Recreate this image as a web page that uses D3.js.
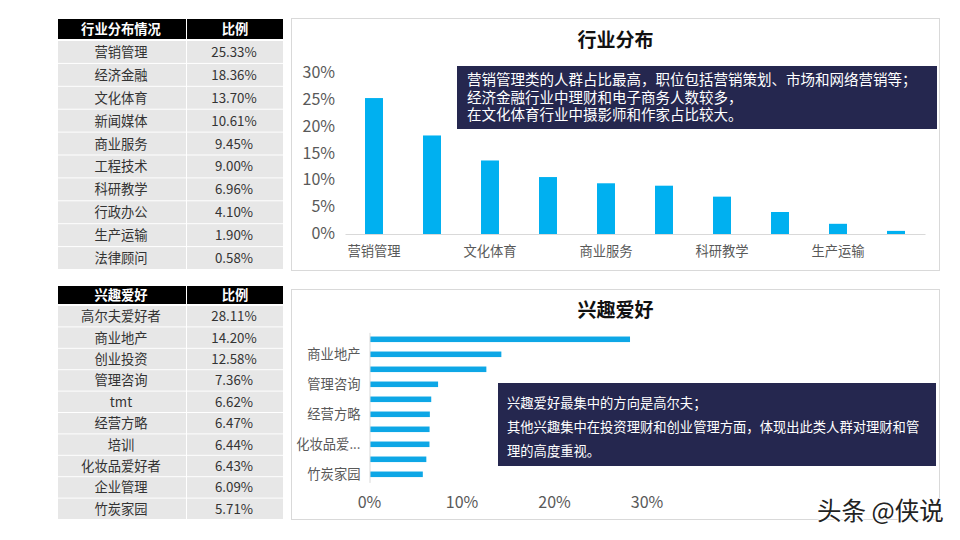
<!DOCTYPE html>
<html>
<head>
<meta charset="utf-8">
<script src="https://cdn.jsdelivr.net/npm/d3@7"></script>
<style>
html, body { margin: 0; padding: 0; background: #fff; }
svg { display: block; }
text { font-family: "Noto Sans CJK SC", "Noto Sans", sans-serif; }
.axis .domain { stroke: #d9d9d9; }
.axis text { fill: #595959; }
</style>
</head>
<body>
<svg id="chart" width="960" height="540"></svg>
<script>
var industries = ['营销管理', '经济金融', '文化体育', '新闻媒体', '商业服务', '工程技术', '科研教学', '行政办公', '生产运输', '法律顾问'];
var industryShares = [25.33, 18.36, 13.70, 10.61, 9.45, 9.00, 6.96, 4.10, 1.90, 0.58];
var hobbies = ['高尔夫爱好者', '商业地产', '创业投资', '管理咨询', 'tmt', '经营方略', '培训', '化妆品爱好者', '企业管理', '竹炭家园'];
var hobbyShares = [28.11, 14.20, 12.58, 7.36, 6.62, 6.47, 6.44, 6.43, 6.09, 5.71];
var industryTicks = [0, 5, 10, 15, 20, 25, 30];
var hobbyTicks = [0, 10, 20, 30];
var industryNote = ['营销管理类的人群占比最高，职位包括营销策划、市场和网络营销等；', '经济金融行业中理财和电子商务人数较多，', '在文化体育行业中摄影师和作家占比较大。'];
var hobbyNote = ['兴趣爱好最集中的方向是高尔夫；', '其他兴趣集中在投资理财和创业管理方面，体现出此类人群对理财和管', '理的高度重视。'];

var svg = d3.select('#chart');
var pct = d3.format('.2f');

// table on the left, header row then grey rows
function drawTable(opts) {
    var g = svg.append('g');
    var rowY = d3.scaleBand().domain(d3.range(opts.names.length)).range([opts.top, opts.bottom]);

    g.append('rect').attr('x', 58).attr('y', opts.headTop).attr('width', 128).attr('height', opts.headH).attr('fill', '#000');
    g.append('rect').attr('x', 187).attr('y', opts.headTop).attr('width', 96).attr('height', opts.headH).attr('fill', '#000');
    g.selectAll('.head').data([[121, opts.title], [235, '比例']]).enter().append('text')
        .attr('x', function(d) { return d[0]; })
        .attr('y', opts.headTop + opts.headH / 2)
        .attr('dy', '0.36em')
        .attr('text-anchor', 'middle')
        .attr('font-size', 13.3)
        .attr('font-weight', 700)
        .attr('fill', '#fff')
        .text(function(d) { return d[1]; });

    var row = g.selectAll('.row').data(opts.names).enter().append('g')
        .attr('transform', function(d, i) { return 'translate(0,' + rowY(i) + ')'; });
    row.append('rect').attr('x', 58).attr('width', 128).attr('height', rowY.bandwidth() - 1).attr('fill', '#e7e7e7');
    row.append('rect').attr('x', 187).attr('width', 96).attr('height', rowY.bandwidth() - 1).attr('fill', '#e7e7e7');
    row.append('text')
        .attr('x', 121).attr('y', rowY.bandwidth() / 2).attr('dy', '0.34em')
        .attr('text-anchor', 'middle').attr('font-size', 13.3).attr('fill', '#333')
        .text(function(d) { return d; });
    row.append('text')
        .attr('x', 234).attr('y', rowY.bandwidth() / 2).attr('dy', '0.34em')
        .attr('text-anchor', 'middle').attr('font-size', 13.3).attr('fill', '#333')
        .text(function(d, i) { return pct(opts.values[i]) + '%'; });
}

function drawPanel(top, bottom, title, titleY) {
    svg.append('rect').attr('x', 291.5).attr('y', top + 0.5).attr('width', 648).attr('height', bottom - top)
        .attr('fill', '#fff').attr('stroke', '#d9d9d9');
    svg.append('text').attr('x', 615.5).attr('y', titleY).attr('dy', '0.36em')
        .attr('text-anchor', 'middle').attr('font-size', 19).attr('font-weight', 700).attr('fill', '#111')
        .text(title);
}

function drawNote(x, y, w, h, lines, size, firstY, lineH) {
    svg.append('rect').attr('x', x).attr('y', y).attr('width', w).attr('height', h).attr('fill', '#25274f');
    var note = svg.append('text').attr('font-size', size).attr('fill', '#fff');
    note.selectAll('tspan').data(lines).enter().append('tspan')
        .attr('x', x + (size > 14 ? 10 : 9))
        .attr('y', function(d, i) { return firstY + i * lineH + size * 0.36; })
        .text(function(d) { return d; });
}

drawTable({ title: '行业分布情况', names: industries, values: industryShares, headTop: 19, headH: 20, top: 41, bottom: 270 });
drawTable({ title: '兴趣爱好', names: hobbies, values: hobbyShares, headTop: 286, headH: 18, top: 306, bottom: 520 });

drawPanel(18, 270, '行业分布', 40);
drawPanel(289, 519, '兴趣爱好', 310);

// column chart
var x1 = d3.scaleBand().domain(industries).range([345, 925]).paddingInner(0.69).paddingOuter(0.345);
var y1 = d3.scaleLinear().domain([0, 30]).range([234, 73]);

svg.selectAll('.col').data(industries).enter().append('rect')
    .attr('class', 'col')
    .attr('x', function(d) { return x1(d); })
    .attr('y', function(d, i) { return y1(industryShares[i]); })
    .attr('width', x1.bandwidth())
    .attr('height', function(d, i) { return y1(0) - y1(industryShares[i]); })
    .attr('fill', '#00b0f0');

var xAxis1 = svg.append('g').attr('class', 'axis').attr('transform', 'translate(0,234)')
    .call(d3.axisBottom(x1).tickSize(0).tickPadding(13)
        .tickValues(industries.filter(function(d, i) { return i % 2 === 0; })));
xAxis1.selectAll('text').attr('font-size', 13.3);

var yAxis1 = svg.append('g').attr('class', 'axis').attr('transform', 'translate(338,-0.5)')
    .call(d3.axisLeft(y1).tickValues(industryTicks).tickSize(0).tickPadding(3)
        .tickFormat(function(d) { return d + '%'; }));
yAxis1.select('.domain').remove();
yAxis1.selectAll('text').attr('font-size', 16);

// bar chart
var y2 = d3.scaleBand().domain(hobbies).range([331.8, 481.8]).paddingInner(0.63).paddingOuter(0.315);
var x2 = d3.scaleLinear().domain([0, 30]).range([370, 647.5]);

svg.selectAll('.bar').data(hobbies).enter().append('rect')
    .attr('class', 'bar')
    .attr('x', x2(0))
    .attr('y', function(d) { return y2(d); })
    .attr('width', function(d, i) { return x2(hobbyShares[i]) - x2(0); })
    .attr('height', y2.bandwidth())
    .attr('fill', '#0ea7e6');

var yAxis2 = svg.append('g').attr('class', 'axis').attr('transform', 'translate(369.5,0.6)')
    .call(d3.axisLeft(y2).tickSize(0).tickPadding(9)
        .tickValues(hobbies.filter(function(d, i) { return i % 2 === 1; }))
        .tickFormat(function(d) { return d.length > 5 ? d.slice(0, 4) + '...' : d; }));
yAxis2.select('.domain').attr('stroke', '#e8dcd0');
yAxis2.selectAll('text').attr('font-size', 13.3);

var xAxis2 = svg.append('g').attr('class', 'axis').attr('transform', 'translate(-1,482)')
    .call(d3.axisBottom(x2).tickValues(hobbyTicks).tickSize(0).tickPadding(15)
        .tickFormat(function(d) { return d + '%'; }));
xAxis2.select('.domain').remove();
xAxis2.selectAll('text').attr('font-size', 16);

drawNote(457, 66, 480, 63, industryNote, 14.5, 80, 17.5);
drawNote(498, 383, 438, 83, hobbyNote, 13.3, 403, 24);

// watermark
svg.append('text').attr('x', 817).attr('y', 520)
    .attr('font-size', 24.5).attr('fill', '#222')
    .attr('stroke', '#fff').attr('stroke-width', 2).attr('paint-order', 'stroke')
    .text('头条 @侠说');
</script>
</body>
</html>
